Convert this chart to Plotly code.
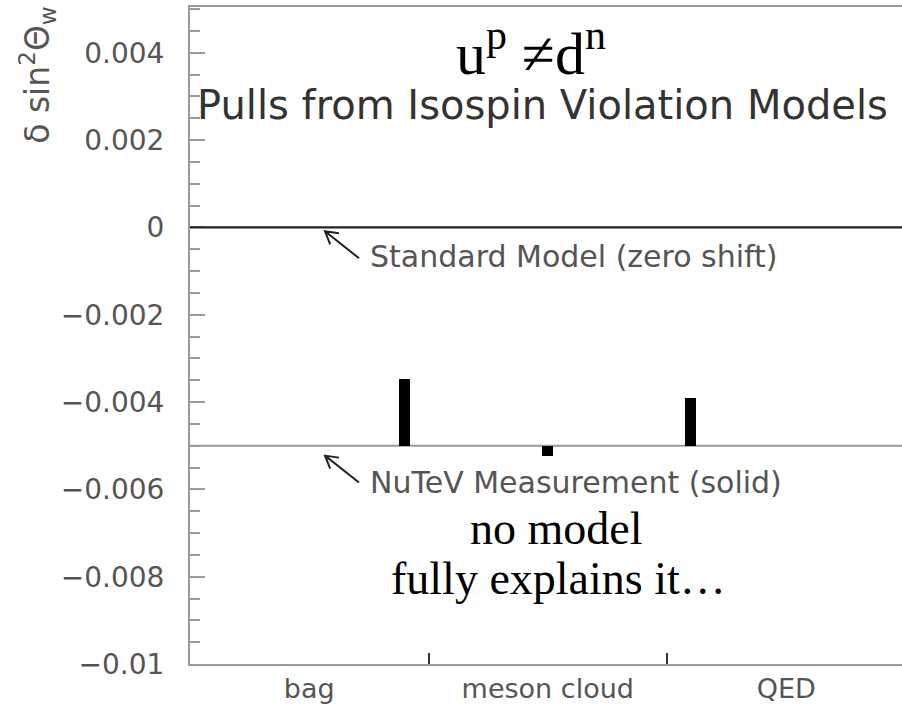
import plotly.graph_objects as go

# ---- data ----
models = ["bag", "meson cloud", "QED"]
model_shift = [-0.00347, -0.00523, -0.0039]   # predicted sin^2 theta_W after each model's pull
nutev_value = -0.005                         # NuTeV measurement shift
standard_model = 0.0                         # SM (zero shift)
y_tickvals = [-0.01, -0.008, -0.006, -0.004, -0.002, 0, 0.002, 0.004]
y_ticktext = ["\u22120.01", "\u22120.008", "\u22120.006", "\u22120.004", "\u22120.002", "0", "0.002", "0.004"]

# ---- layout constants (pixels) ----
W, H = 902, 704
ML, MR, MT, MB = 190, 0, 7, 38
PW, PH = W - ML - MR, H - MT - MB
bar_offset = [0.4, 0.0, -0.4]   # offset of each bar from its category centre
bar_width = 0.046

def px(x):
    return (x - ML) / PW

def py(y):
    return (H - MB - y) / PH

GRAY = "#9a9a9a"
TXT = "#555555"
SANS = "DejaVu Sans"
SERIF = "Liberation Serif"

fig = go.Figure()

centres = [i + 0.5 for i in range(len(models))]
xs = [c + o for c, o in zip(centres, bar_offset)]
fig.add_trace(go.Bar(
    x=xs,
    y=[v - nutev_value for v in model_shift],
    base=nutev_value,
    width=bar_width,
    marker=dict(color="black", line=dict(width=0)),
    showlegend=False,
))

# Standard model and NuTeV lines
fig.add_shape(type="line", xref="paper", yref="y", x0=0, x1=1, y0=standard_model, y1=standard_model,
              line=dict(color="#222222", width=2.2), layer="above")
fig.add_shape(type="line", xref="paper", yref="y", x0=0, x1=1, y0=nutev_value, y1=nutev_value,
              line=dict(color=GRAY, width=2), layer="below")

# arrows (open chevron)
def arrow(tip, tail):
    tx, ty = tip
    sx, sy = tail
    path = (f"M {px(sx)},{py(sy)} L {px(tx)},{py(ty)} "
            f"M {px(tx+5.2)},{py(ty+13)} L {px(tx)},{py(ty)} L {px(tx+13.9)},{py(ty+2)}")
    fig.add_shape(type="path", xref="paper", yref="paper", path=path,
                  line=dict(color="#222222", width=2))

arrow((325, 232), (359, 259))
arrow((325, 457), (359, 484))

annos = []
def text(x, y, s, size, color, font=SANS, xanchor="left", angle=0):
    annos.append(dict(x=px(x), y=py(y), xref="paper", yref="paper", text=s, showarrow=False,
                      xanchor=xanchor, yanchor="middle", textangle=angle,
                      font=dict(family=font, size=size, color=color)))

text(531, 50, "u<sup>p</sup> \u2260d<sup>n</sup>", 60, "black", font=SERIF, xanchor="center")
text(195, 105, "Pulls from Isospin Violation Models", 40, "#333333")
text(368, 257, "Standard Model (zero shift)", 30, TXT)
text(368, 484, "NuTeV Measurement (solid)", 30, TXT)
text(556, 530, "no model", 46, "black", font=SERIF, xanchor="center")
text(558, 580, "fully explains it\u2026", 46, "black", font=SERIF, xanchor="center")
text(38, 75, "\u03b4 sin<sup>2</sup>\u0398<sub>w</sub>", 33, TXT, xanchor="center", angle=-90)

fig.update_layout(
    width=W, height=H,
    margin=dict(l=ML, r=MR, t=MT, b=MB),
    paper_bgcolor="white", plot_bgcolor="white",
    annotations=annos,
    bargap=0,
    xaxis=dict(
        range=[0, PW / ((667 - 190) / 2)],
        tickvals=centres, ticktext=models, ticks="",
        tickfont=dict(family=SANS, size=27, color=TXT),
        showgrid=False, zeroline=False,
        showline=True, linecolor=GRAY, linewidth=2, mirror=True,
        minor=dict(tickvals=[1, 2], ticks="inside", ticklen=11, tickcolor="#333333", tickwidth=1.5),
    ),
    yaxis=dict(
        range=[-0.01, 0.00505],
        tickvals=y_tickvals, ticktext=y_ticktext,
        ticks="inside", ticklen=15, tickwidth=1.5, tickcolor=GRAY,
        tickfont=dict(family=SANS, size=28, color=TXT),
        ticklabelstandoff=18,
        showgrid=False, zeroline=False,
        showline=True, linecolor=GRAY, linewidth=2,
        minor=dict(dtick=0.0005, tick0=0, ticks="inside", ticklen=10, tickwidth=1.5, tickcolor=GRAY, showgrid=False),
    ),
)

fig.write_html("out.html")
